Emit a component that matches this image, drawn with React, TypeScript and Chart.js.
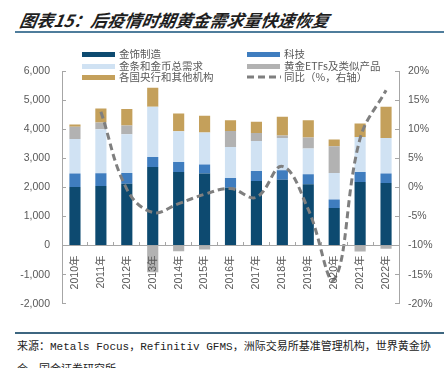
import React, { useEffect, useRef } from "react";
import { Chart, registerables } from "chart.js";

Chart.register(...registerables);

const categories = ["2010年", "2011年", "2012年", "2013年", "2014年", "2015年", "2016年", "2017年", "2018年", "2019年", "2020年", "2021年", "2022年"];
const jewelry = [2010, 2045, 2126, 2700, 2528, 2472, 1990, 2217, 2264, 2103, 1287, 2183, 2149];
const technology = [462, 438, 368, 345, 344, 310, 331, 345, 322, 345, 299, 345, 323];
const barCoin = [1194, 1517, 1334, 1725, 1059, 1104, 1069, 1035, 1114, 885, 908, 1206, 1228];
const etf = [414, 230, 298, -920, -197, -138, 551, 275, 82, 380, 920, -207, -114];
const centralBanks = [82, 483, 564, 654, 609, 574, 369, 380, 642, 597, 230, 461, 1070];
const yoy = [null, 13.0, -0.3, -4.3, -2.8, -1.2, -0.2, -1.7, 3.6, -3.8, -15.8, 8.4, 16.7];

const leftTicks = [-2000, -1000, 0, 1000, 2000, 3000, 4000, 5000, 6000];
const rightTicks = [-20, -15, -10, -5, 0, 5, 10, 15, 20];

const COLORS = {
  jewelry: "#0d4a70",
  tech: "#3f7dbf",
  bar: "#d0e2f3",
  etf: "#b2b2b2",
  cb: "#c4a05b",
  line: "#7f7f7f",
  axis: "#a6a6a6",
  text: "#595959",
};

const legendItems = [
  { label: "金饰制造", color: COLORS.jewelry, col: 0, row: 0 },
  { label: "科技", color: COLORS.tech, col: 1, row: 0 },
  { label: "金条和金币总需求", color: COLORS.bar, col: 0, row: 1 },
  { label: "黄金ETFs及类似产品", color: COLORS.etf, col: 1, row: 1 },
  { label: "各国央行和其他机构", color: COLORS.cb, col: 0, row: 2 },
  { label: "同比（%，右轴）", color: COLORS.line, col: 1, row: 2, dashed: true },
];

export default function App() {
  const ref = useRef<HTMLCanvasElement | null>(null);

  useEffect(() => {
    if (!ref.current) return;
    const font = { family: "'Liberation Sans', Arial, 'Noto Sans CJK SC'", size: 10.5 };
    const chart = new Chart(ref.current, {
      type: "bar",
      data: {
        labels: categories,
        datasets: [
          { type: "line", label: "同比", data: yoy, yAxisID: "y1", borderColor: COLORS.line, borderWidth: 3, borderDash: [7, 4], pointRadius: 0, tension: 0.4, fill: false, order: 0 } as any,
          { label: "金饰制造", data: jewelry, backgroundColor: COLORS.jewelry, yAxisID: "y", order: 1 },
          { label: "科技", data: technology, backgroundColor: COLORS.tech, yAxisID: "y", order: 1 },
          { label: "金条和金币总需求", data: barCoin, backgroundColor: COLORS.bar, yAxisID: "y", order: 1 },
          { label: "黄金ETFs及类似产品", data: etf, backgroundColor: COLORS.etf, yAxisID: "y", order: 1 },
          { label: "各国央行和其他机构", data: centralBanks, backgroundColor: COLORS.cb, yAxisID: "y", order: 1 },
        ],
      },
      options: {
        responsive: false,
        animation: false,
        devicePixelRatio: 1,
        layout: { padding: { left: 8, right: 0, top: 71, bottom: 17 } },
        plugins: { legend: { display: false }, tooltip: { enabled: false } },
        datasets: { bar: { categoryPercentage: 1, barPercentage: 0.43 } },
        scales: {
          x: {
            stacked: true,
            position: { y: 0 } as any,
            offset: true,
            grid: { display: true, drawOnChartArea: false, drawTicks: true, tickLength: -4, color: COLORS.axis, offset: true, z: 1 },
            border: { display: true, color: COLORS.axis, width: 1, z: 1 },
            ticks: { minRotation: 90, maxRotation: 90, autoSkip: false, padding: 14, color: COLORS.text, font, z: 1 },
          },
          y: {
            stacked: true,
            position: "left",
            min: -2000,
            max: 6000,
            afterFit: (s: any) => { s.width = 54; },
            afterBuildTicks: (s: any) => { s.ticks = leftTicks.map((v) => ({ value: v })); },
            grid: { display: true, drawOnChartArea: false, drawTicks: true, tickLength: -4, color: COLORS.axis },
            border: { display: true, color: COLORS.axis, width: 1 },
            ticks: { padding: 16, color: COLORS.text, font, callback: (v: any) => Number(v).toLocaleString("en-US") },
          },
          y1: {
            position: "right",
            min: -20,
            max: 20,
            afterFit: (s: any) => { s.width = 45; },
            afterBuildTicks: (s: any) => { s.ticks = rightTicks.map((v) => ({ value: v })); },
            grid: { display: true, drawOnChartArea: false, drawTicks: true, tickLength: -4, color: COLORS.axis },
            border: { display: true, color: COLORS.axis, width: 1 },
            ticks: { padding: 13, color: COLORS.text, font, callback: (v: any) => v + "%" },
          },
        },
      },
    });
    return () => chart.destroy();
  }, []);

  const rowY = [54, 65.5, 77];
  const markerX = [82, 247];
  const textX = [119, 284];

  return (
    <div style={{ position: "fixed", left: 0, top: 0, width: 444, height: 368, background: "#fff", overflow: "hidden" }}>
      <div style={{ position: "absolute", left: 20, top: 9, fontFamily: "'Noto Sans CJK SC'", fontSize: 17, fontWeight: 700, fontStyle: "italic", color: "#1f1f1f", lineHeight: "22px", whiteSpace: "nowrap", transform: "skewX(-10deg)" }}>
        图表15：后疫情时期黄金需求量快速恢复
      </div>
      <div style={{ position: "absolute", left: 15, top: 31, width: 429, height: 2, background: "#4f7d9c" }} />
      <canvas ref={ref} width={444} height={326} style={{ position: "absolute", left: 0, top: 0, width: 444, height: 326 }} />
      {legendItems.map((it, i) => (
        <React.Fragment key={i}>
          {it.dashed ? (
            <svg style={{ position: "absolute", left: markerX[it.col], top: rowY[it.row] - 3 }} width={34} height={6}>
              <line x1={0} y1={3} x2={34} y2={3} stroke={it.color} strokeWidth={3} strokeDasharray="7,4" />
            </svg>
          ) : (
            <div style={{ position: "absolute", left: markerX[it.col], top: rowY[it.row] - 2, width: 33, height: 5, background: it.color }} />
          )}
          <div style={{ position: "absolute", left: textX[it.col], top: rowY[it.row] - 8, fontFamily: "'Noto Sans CJK SC'", fontSize: 10.5, lineHeight: "16px", color: COLORS.text, whiteSpace: "nowrap" }}>
            {it.label}
          </div>
        </React.Fragment>
      ))}
      <div style={{ position: "absolute", left: 15, top: 332, width: 429, height: 1.5, background: "#3d6680" }} />
      <div style={{ position: "absolute", left: 17, top: 339, fontFamily: "'Liberation Mono', 'Noto Sans CJK SC'", fontSize: 11, lineHeight: "16px", color: "#222", whiteSpace: "nowrap" }}>
        来源：Metals Focus，Refinitiv GFMS，洲际交易所基准管理机构，世界黄金协
      </div>
      <div style={{ position: "absolute", left: 17, top: 362, fontFamily: "'Liberation Mono', 'Noto Sans CJK SC'", fontSize: 11, lineHeight: "16px", color: "#222", whiteSpace: "nowrap" }}>
        会，国金证券研究所
      </div>
    </div>
  );
}
